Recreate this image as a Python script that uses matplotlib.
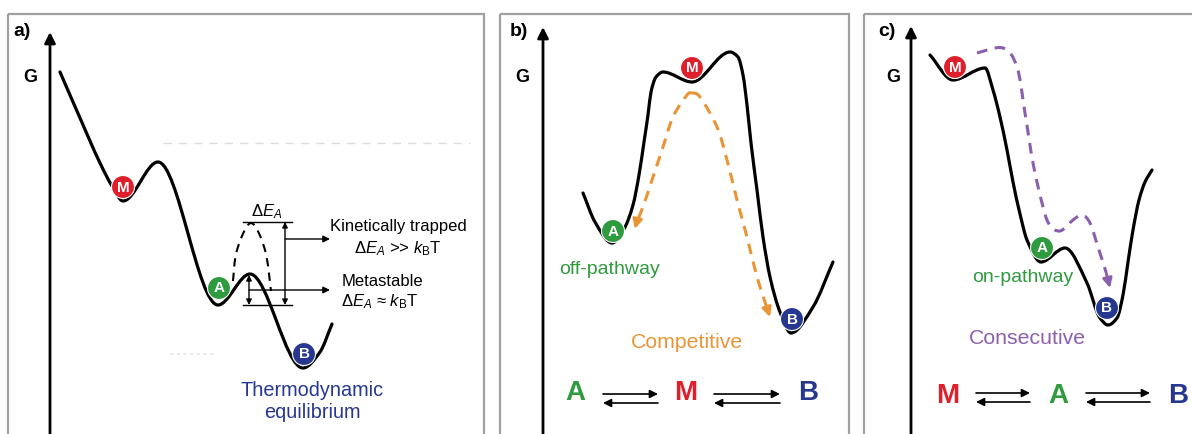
import numpy as np
import matplotlib
matplotlib.use("Agg")
from matplotlib import pyplot as plt
from matplotlib.path import Path
from matplotlib.patches import PathPatch, Rectangle, Circle

plt.rcParams['font.family'] = ['Liberation Sans', 'DejaVu Sans']
plt.rcParams['mathtext.fontset'] = 'custom'
plt.rcParams['mathtext.rm'] = 'Liberation Sans'
plt.rcParams['mathtext.it'] = 'Liberation Sans:italic'

# energy landscapes, knot points (x, G) in pixel space
curve_a_x = [60, 80, 100, 112, 123, 158, 218, 250, 303, 320, 332]
curve_a_y = [72, 118, 163, 186, 201, 162, 305, 274, 368, 352, 324]
curve_b_x = [583, 595, 612, 624, 633, 639, 644, 648, 651, 656, 663, 692, 730, 738, 743, 747, 751, 757,
             763, 770, 780, 791, 813, 833]
curve_b_y = [193, 222, 243, 229, 205, 175, 142, 115, 92, 77, 72, 82, 52, 57, 75, 105, 143, 190,
             237, 277, 312, 333, 307, 262]
curve_c_x = [930, 953, 985, 993, 1000, 1007, 1013, 1020, 1027, 1041, 1065, 1087, 1100, 1108, 1117,
             1123, 1128, 1133, 1139, 1145, 1152]
curve_c_y = [55, 80, 68, 90, 117, 150, 182, 214, 240, 262, 248, 283, 318, 325, 318, 295, 262, 230,
             200, 182, 170]

# species markers (letter, x, y, colour)
red, green, blue = '#de1f2c', '#2e9b3f', '#26378f'
orange, purple = '#ea9436', '#8b5fae'
markers = [('M', 123, 187, red), ('A', 219, 288, green), ('B', 304, 354, blue),
           ('M', 692, 68, red), ('A', 613, 231, green), ('B', 792, 319, blue),
           ('M', 955, 67, red), ('A', 1042, 248, green), ('B', 1107, 308, blue)]

# pathway arrows (dashed), last point is the arrow tip
arrow_b_left = [(692, 93), (687, 95), (673, 117), (663, 147), (653, 177), (643, 207), (637, 221), (635, 229)]
arrow_b_right = [(692, 93), (700, 97), (717, 127), (727, 160), (737, 200), (747, 237), (757, 277), (766, 305), (770, 317)]
arrow_c = [(977, 53), (1003, 48), (1017, 67), (1025, 113), (1033, 163), (1042, 203), (1049, 224),
           (1060, 231), (1073, 220), (1082, 215), (1090, 223), (1098, 247), (1106, 272), (1110, 288)]
hump_a = [(233, 281), (237, 250), (251, 223), (265, 250), (271, 291)]

# equilibrium schemes: (letter, x, colour), letter row y, forward / backward arrow rows
scheme_b = [('A', 575, green), ('M', 686, red), ('B', 808, blue)]
scheme_c = [('M', 948, red), ('A', 1058, green), ('B', 1178, blue)]
rows_b = (393, 394, 403)
rows_c = (396, 393, 402)


def pchip_path(xs, ys):
    x = np.asarray(xs, float)
    y = np.asarray(ys, float)
    h = np.diff(x)
    d = np.diff(y) / h
    m = np.zeros(len(x))
    m[0], m[-1] = d[0], d[-1]
    for k in range(1, len(x) - 1):
        if d[k - 1] * d[k] > 0:
            w1 = 2 * h[k] + h[k - 1]
            w2 = h[k] + 2 * h[k - 1]
            m[k] = (w1 + w2) / (w1 / d[k - 1] + w2 / d[k])
    verts = [(x[0], y[0])]
    codes = [Path.MOVETO]
    for i in range(len(h)):
        verts += [(x[i] + h[i] / 3, y[i] + m[i] * h[i] / 3),
                  (x[i + 1] - h[i] / 3, y[i + 1] - m[i + 1] * h[i] / 3),
                  (x[i + 1], y[i + 1])]
        codes += [Path.CURVE4] * 3
    return Path(verts, codes)


def spline_path(pts):
    p = np.asarray(pts, float)
    p = np.vstack([p[0], p, p[-1]])
    verts = [tuple(p[1])]
    codes = [Path.MOVETO]
    for i in range(1, len(p) - 2):
        c1 = p[i] + (p[i + 1] - p[i - 1]) / 6
        c2 = p[i + 1] - (p[i + 2] - p[i]) / 6
        verts += [tuple(c1), tuple(c2), tuple(p[i + 1])]
        codes += [Path.CURVE4] * 3
    return Path(verts, codes)


fig = plt.figure(figsize=(11.92, 4.34), dpi=100)
ax = fig.add_axes([0, 0, 1, 1])
ax.set_xlim(0, 1192)
ax.set_ylim(434, 0)
ax.axis('off')

# panel frames
for x0, x1 in [(8, 484), (500, 849), (864, 1200)]:
    ax.add_patch(Rectangle((x0, 14), x1 - x0, 440, fill=False, ec='#a0a0a0', lw=1.6))

# G axes
for xa, ytip, lab, xl, xg in [(50, 32, 'a)', 22, 30), (543, 27, 'b)', 519, 522), (911, 26, 'c)', 887, 893)]:
    ax.annotate('', xy=(xa, ytip), xytext=(xa, 436),
                arrowprops=dict(arrowstyle='-|>', lw=2, color='k', mutation_scale=16, shrinkA=0, shrinkB=0))
    ax.text(xl, 31, lab, fontsize=14, fontweight='bold', ha='center', va='center')
    ax.text(xg, 77, 'G', fontsize=13, fontweight='bold', ha='center', va='center')

# faint guides in panel a
ax.plot([163, 470], [143, 143], color='#dcdcdc', lw=1, ls=(0, (6, 5)))
ax.plot([170, 217], [354, 354], color='#e6e6e6', lw=1.2, ls=(0, (2, 2)))

for xs, ys in [(curve_a_x, curve_a_y), (curve_b_x, curve_b_y), (curve_c_x, curve_c_y)]:
    ax.add_patch(PathPatch(pchip_path(xs, ys), fill=False, lw=2.3, ec='k', capstyle='round'))

# kinetic trap hump and barrier annotations
ax.add_patch(PathPatch(spline_path(hump_a), fill=False, lw=1.5, ec='k', ls=(0, (4, 3))))
ax.plot([243, 292], [222, 222], color='k', lw=1)
ax.plot([243, 292], [305, 305], color='k', lw=1)
dbl = dict(arrowstyle='<|-|>', lw=1, color='k', mutation_scale=8, shrinkA=0, shrinkB=0)
ax.annotate('', xy=(249, 275), xytext=(249, 305), arrowprops=dbl)
ax.annotate('', xy=(285, 222), xytext=(285, 305), arrowprops=dbl)
one = dict(arrowstyle='-|>', lw=1, color='k', mutation_scale=10, shrinkA=0, shrinkB=0)
ax.annotate('', xy=(330, 239), xytext=(285, 239), arrowprops=one)
ax.annotate('', xy=(330, 290), xytext=(249, 290), arrowprops=one)
ax.text(267, 212, r'Δ$E_A$', fontsize=12, ha='center', va='center')
ax.text(398, 227, 'Kinetically trapped', fontsize=12, ha='center', va='center')
ax.text(398, 249, r'Δ$E_A$ >> $k_\mathrm{B}$T', fontsize=12, ha='center', va='center')
ax.text(382, 281, 'Metastable', fontsize=12, ha='center', va='center')
ax.text(380, 302, r'Δ$E_A$ ≈ $k_\mathrm{B}$T', fontsize=12, ha='center', va='center')
ax.text(312, 390, 'Thermodynamic', fontsize=14.3, color=blue, ha='center', va='center')
ax.text(312, 413, 'equilibrium', fontsize=14.3, color=blue, ha='center', va='center')

# pathway arrows
for pts, col in [(arrow_b_left, orange), (arrow_b_right, orange), (arrow_c, purple)]:
    ax.add_patch(PathPatch(spline_path(pts[:-1]), fill=False, lw=2.2, ec=col, ls=(0, (3.5, 2.5))))
    ax.annotate('', xy=pts[-1], xytext=pts[-2],
                arrowprops=dict(arrowstyle='-|>', lw=2, color=col, mutation_scale=14, shrinkA=0, shrinkB=0))

# species circles
for letter, cx, cy, col in markers:
    ax.add_patch(Circle((cx, cy), 11.5, fc=col, ec='white', lw=0.8, zorder=5))
    ax.text(cx, cy + 0.5, letter, color='white', fontsize=11, fontweight='bold',
            ha='center', va='center', zorder=6)

ax.text(610, 270, 'off-pathway', fontsize=14, color=green, ha='center', va='center')
ax.text(687, 342, 'Competitive', fontsize=15.3, color=orange, ha='center', va='center')
ax.text(1023, 278, 'on-pathway', fontsize=14, color=green, ha='center', va='center')
ax.text(1027, 338, 'Consecutive', fontsize=15.3, color=purple, ha='center', va='center')

eq = dict(arrowstyle='-|>', lw=1.2, color='k', mutation_scale=12, shrinkA=0, shrinkB=0)
for scheme, (yl, yf, yb) in [(scheme_b, rows_b), (scheme_c, rows_c)]:
    for i, (letter, xl, col) in enumerate(scheme):
        ax.text(xl, yl, letter, fontsize=20, fontweight='bold', color=col, ha='center', va='center')
        if i < 2:
            xa = xl + 28
            xb = scheme[i + 1][1] - 28
            ax.annotate('', xy=(xb, yf), xytext=(xa, yf), arrowprops=eq)
            ax.annotate('', xy=(xa, yb), xytext=(xb, yb), arrowprops=eq)

plt.savefig('out.png', dpi=100)
